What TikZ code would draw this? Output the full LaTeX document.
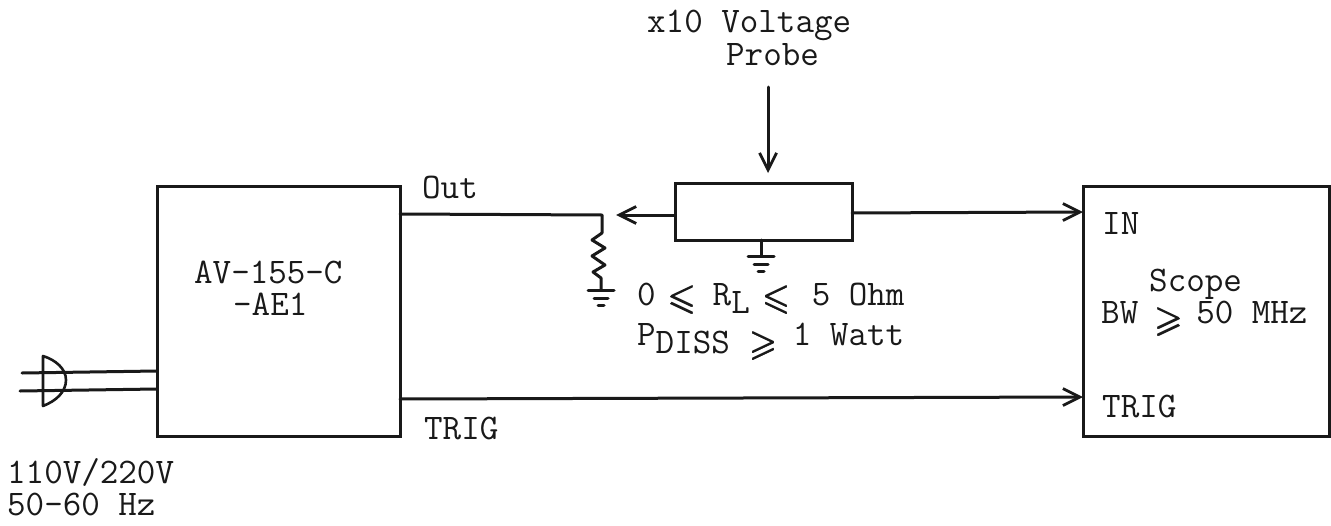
\documentclass[tikz,border=0pt]{standalone}
\usepackage{amsmath,amssymb}
\usepackage{fontspec}
\usepackage{graphicx}
\usetikzlibrary{arrows.meta}
\newcommand{\twfont}{\fontsize{36}{38}\selectfont\ttfamily\addfontfeature{FakeBold=1.2}}
\newcommand{\relsym}[2]{\raisebox{#1}{\makebox[28pt]{\pmb{$#2$}}}}
\newcommand{\subtxt}[2]{\raisebox{#1}{#2}}
\tikzset{
  wire/.style={line width=3pt,line cap=round,line join=round,black!90},
  arr/.style={wire,-{Straight Barb[length=17pt,width=17pt,line width=2.8pt]}},
  boxx/.style={draw=black!90,line width=3pt,fill=white,inner sep=0pt},
  lab/.style={font=\twfont,inner sep=0pt,text=black!90,anchor=base west}
}
\newcommand{\gnd}[1]{%
  \draw[wire] (#1)++(-13,0) -- ++(26,0) (#1)++(-7,8) -- ++(14,0) (#1)++(-3,15) -- ++(6,0);}
\begin{document}
\begin{tikzpicture}[x=1pt,y=-1pt]
\useasboundingbox[fill=white] (0,0) rectangle (1331,525);
\node[boxx,minimum width=243pt,minimum height=250pt] (src) at (278.5,311) {};
\node[boxx,minimum width=246pt,minimum height=250pt] (scope) at (1206,311) {};
\node[boxx,minimum width=177pt,minimum height=57pt] (probe) at (763.5,211.5) {};
\coordinate (srcout) at (400,214);
\coordinate (corner) at (602,215);
\coordinate (rtop) at (602,233);
\coordinate (gndA) at (601,290);
\coordinate (tip) at (616,215);
\coordinate (probeL) at (675,215);
\coordinate (probeR) at (852,213);
\coordinate (scopeIn) at (1083,212);
\coordinate (trigA) at (400,399);
\coordinate (trigB) at (1083,397);
\coordinate (probeTop) at (768,87);
\coordinate (probeEnd) at (768,173);
\coordinate (pgA) at (761,240);
\coordinate (gndB) at (761,256);
\coordinate (p1) at (22,373);
\coordinate (p2) at (157,371);
\coordinate (p3) at (20,391);
\coordinate (p4) at (157,389);
\draw[wire] (srcout) -- (corner) -- (rtop)
  -- (592,240) -- (605,248) -- (592,256) -- (605,265) -- (593,272) -- (601,278) -- (gndA);
\gnd{gndA}
\draw[arr] (probeL) -- (tip);
\draw[arr] (probeR) -- (scopeIn);
\draw[arr] (trigA) -- (trigB);
\draw[arr] (probeTop) -- (probeEnd);
\draw[wire] (pgA) -- (gndB);
\gnd{gndB}
\draw[wire] (p1) -- (p2);
\draw[wire] (p3) -- (p4);
\draw[line width=2.6pt,line join=round,black!90] (43,356) -- (43,406) .. controls (56,401) and (66,392) .. (66,380) .. controls (66,369) and (56,360) .. (43,356) -- cycle;
\node[lab] (t1) at (647,32) {x10 Voltage};
\node[lab] (t2) at (726,65) {Probe};
\node[lab] (t3) at (422,198) {Out};
\node[lab] (t4) at (424,439) {TRIG};
\node[lab] (t5) at (194,283) {AV-155-C};
\node[lab] (t6) at (233,315) {-AE1};
\node[lab] (t7) at (7,483) {110V/220V};
\node[lab] (t8) at (7,515) {50-60 Hz};
\node[lab] (t9) at (1102,234) {IN};
\node[lab] (t10) at (1102,417) {TRIG};
\node[lab] (t11) at (1149,291) {Scope};
\node[lab] (t12) at (1101,323) {BW\hspace{17pt}\relsym{-8pt}{\geqslant}\hspace{13pt}50 MHz};
\node[lab] (t13) at (637,305) {0\hspace{13pt}\relsym{-4pt}{\leqslant}\hspace{16pt}R\subtxt{-8pt}{L}\hspace{13pt}\relsym{-4pt}{\leqslant}\hspace{21pt}5 Ohm};
\node[lab] (t14) at (637,345) {P\subtxt{-8pt}{DISS}\hspace{20pt}\relsym{-10pt}{\geqslant}\hspace{15pt}1 Watt};
\end{tikzpicture}
\end{document}
